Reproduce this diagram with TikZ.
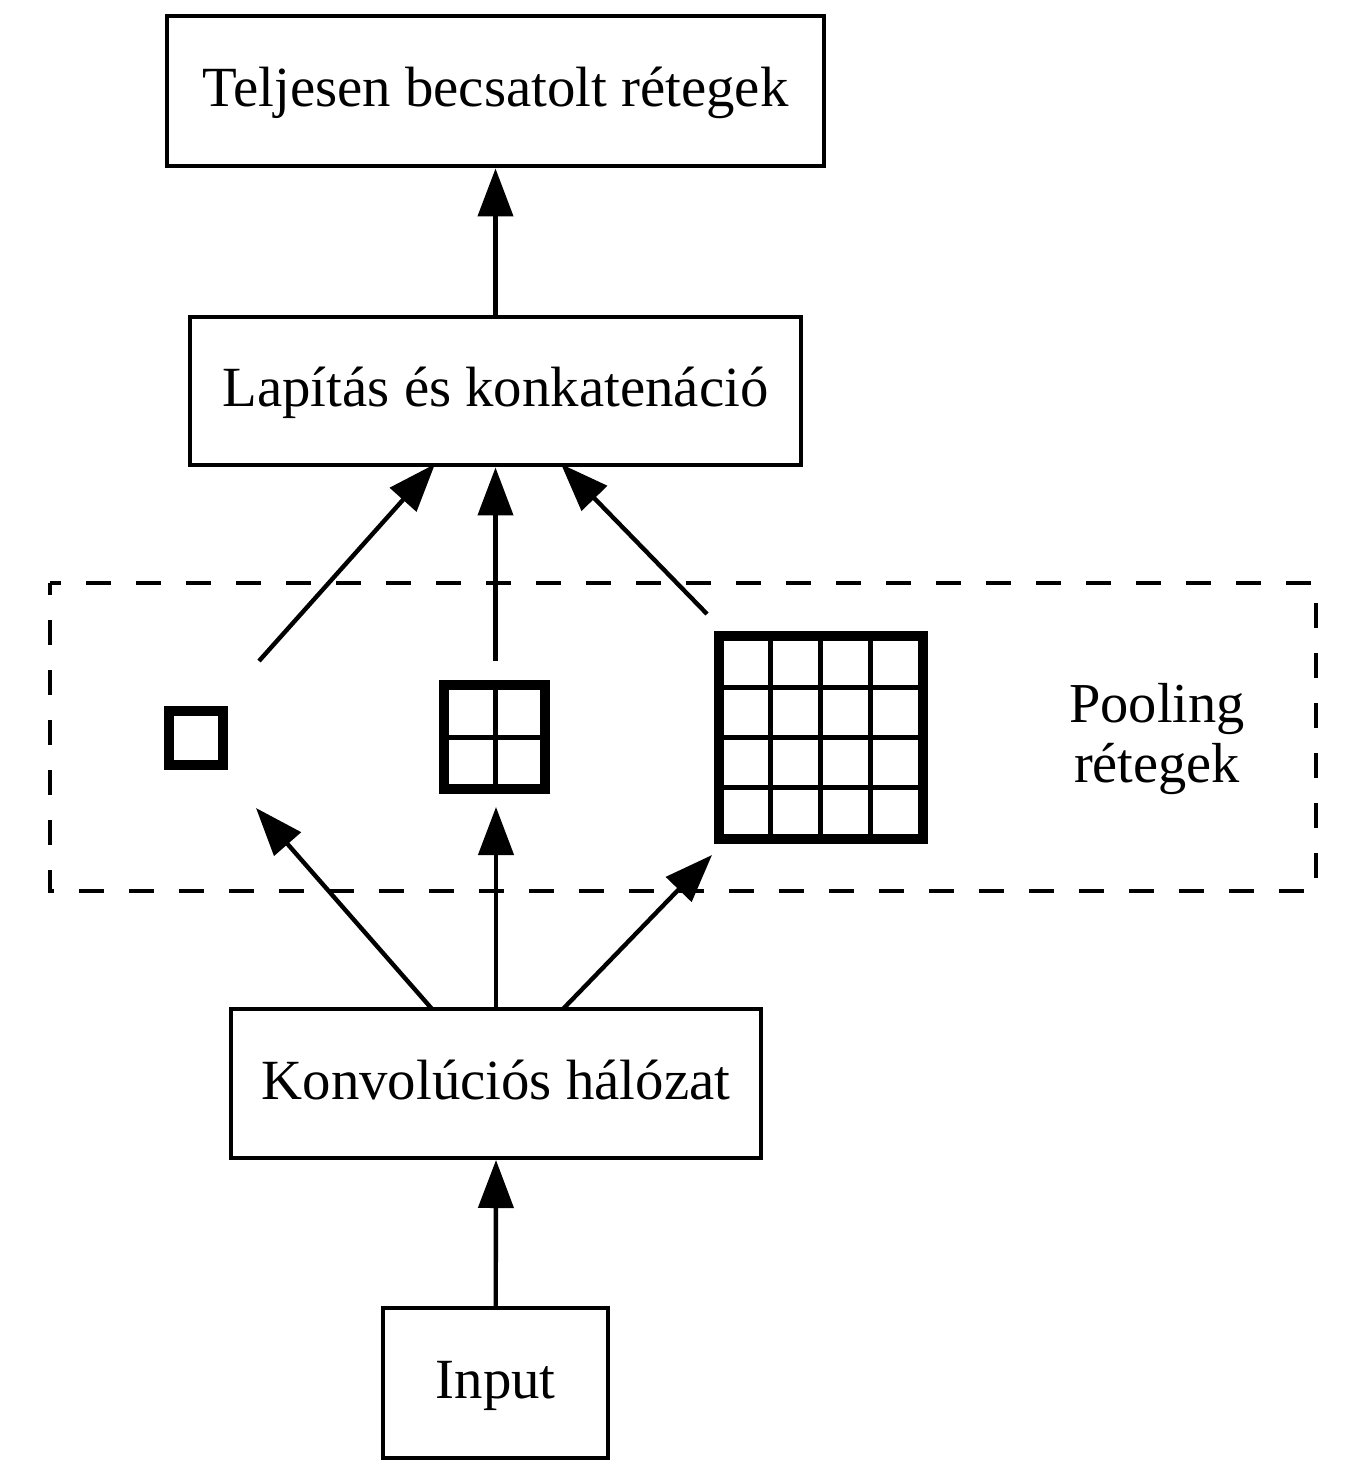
\documentclass[tikz,border=0pt]{standalone}
\usepackage{fontspec}
\setmainfont{Liberation Serif}
\usetikzlibrary{arrows.meta}
\begin{document}
\begin{tikzpicture}[x=0.5pt,y=-0.5pt,
  box/.style={draw, line width=2pt, rectangle, inner sep=0pt, font=\fontsize{28.4}{34}\selectfont, text height=22.5pt, text depth=7pt},
  arr/.style={line width=2.2pt, -{Triangle[length=24pt,width=17.5pt]}},
  cluster/.style={draw, line width=2pt, dash pattern=on 12.5pt off 12.5pt, dash phase=6.5pt},
  gridouter/.style={line width=2.5pt},
  gridline/.style={line width=2.5pt}]
\useasboundingbox (0,0) rectangle (1367,1475);
% nodes
\node[box, minimum width=328.5pt, minimum height=75pt] (fc) at (495.5,91.5) {Teljesen becsatolt rétegek};
\node[box, minimum width=305.5pt, minimum height=74pt] (flat) at (495.5,391.5) {Lapítás és konkatenáció};
\node[box, minimum width=265pt, minimum height=74.5pt] (conv) at (496,1083.5) {Konvolúciós hálózat};
\node[box, minimum width=112.5pt, minimum height=75pt] (inp) at (495.7,1383) {Input};
% cluster
\draw[cluster] (50,583) rectangle (1316,891);
\node[align=center, inner sep=0pt, font=\fontsize{28.2}{30}\selectfont] (pool) at (1157,739) {Pooling\\rétegek};
% small square
\draw[gridouter] (166,708) rectangle (225,767);
\draw[gridouter] (171,713) rectangle (220,762);
% middle 2x2 grid
\draw[gridouter] (441,682) rectangle (547,791);
\draw[gridouter] (446,687) rectangle (542,786);
\draw[gridline] (495.5,687) -- (495.5,786);
\draw[gridline] (446,737) -- (542,737);
% large 4x4 grid
\draw[gridouter] (716,633) rectangle (925,841);
\draw[gridouter] (721,638) rectangle (920,836);
\foreach \gx in {770.5,820.5,870.5} \draw[gridline] (\gx,638) -- (\gx,836);
\foreach \gy in {687,737,787} \draw[gridline] (721,\gy) -- (920,\gy);
% coordinates
\coordinate (p1) at (259,661);
\coordinate (p2) at (495.5,661);
\coordinate (p3) at (707,614);
\coordinate (t1) at (435,464);
\coordinate (t3) at (561,464);
\coordinate (k1) at (432,1009);
\coordinate (k3) at (563,1009);
\coordinate (q1) at (256,808);
\coordinate (q2) at (496,807);
\coordinate (q3) at (712,855);
% connectors
\draw[arr] (inp.north) -- (conv.south);
\draw[arr] (k1) -- (q1);
\draw[arr] (conv.north) -- (q2);
\draw[arr] (k3) -- (q3);
\draw[arr] (p1) -- (t1);
\draw[arr] (p2) -- (flat.south);
\draw[arr] (p3) -- (t3);
\draw[arr] (flat.north) -- (fc.south);
\end{tikzpicture}
\end{document}
